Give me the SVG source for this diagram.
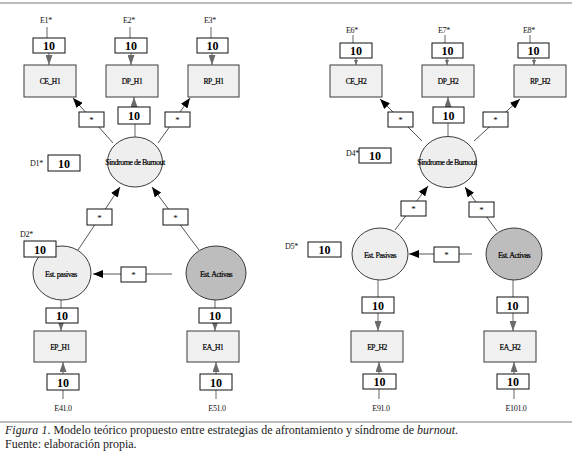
<svg xmlns="http://www.w3.org/2000/svg" width="580" height="456" viewBox="0 0 580 456">
<style>
.bg{fill:#fff}
.obs{fill:#f0f0f0;stroke:#3a3a3a;stroke-width:1}
.lat{fill:#eeeeee;stroke:#3a3a3a;stroke-width:1}
.latd{fill:#bdbdbd;stroke:#3a3a3a;stroke-width:1}
.par{fill:#fff;stroke:#111;stroke-width:1}
.ln{fill:none;stroke:#666;stroke-width:1}
.pth{fill:none;stroke:#555;stroke-width:1}
.rule{stroke:#7a7a7a;stroke-width:1.2}
.t{font-family:"Liberation Serif","DejaVu Serif",serif;font-size:7.5px;fill:#000;text-anchor:middle;letter-spacing:-0.4px;stroke:#000;stroke-width:0.2px}
.tl{font-family:"Liberation Serif","DejaVu Serif",serif;font-size:8px;fill:#000;text-anchor:middle;letter-spacing:-0.5px;stroke:#000;stroke-width:0.2px}
.lab{font-family:"Liberation Serif","DejaVu Serif",serif;font-size:8px;fill:#111;letter-spacing:-0.3px}
.num{font-family:"Liberation Serif","DejaVu Serif",serif;font-size:12px;font-weight:bold;fill:#000;text-anchor:middle}
.st{font-family:"Liberation Serif","DejaVu Serif",serif;font-size:9px;fill:#000;text-anchor:middle}
.cap{font-family:"Liberation Serif","DejaVu Serif",serif;font-size:12px;fill:#222}
</style>
<defs>
<marker id="ab" markerWidth="10" markerHeight="8" refX="10" refY="4" orient="auto" markerUnits="userSpaceOnUse"><path d="M0,0 L10,4 L0,8 z" fill="#000"/></marker>
<marker id="ag" markerWidth="10" markerHeight="7" refX="10" refY="3.5" orient="auto" markerUnits="userSpaceOnUse"><path d="M0,0 L10,3.5 L0,7 z" fill="#6a6a6a"/></marker>
<marker id="as" markerWidth="5" markerHeight="4" refX="5" refY="2" orient="auto" markerUnits="userSpaceOnUse"><path d="M0,0 L5,2 L0,4 z" fill="#6a6a6a"/></marker>
</defs>
<rect class="bg" x="0" y="0" width="580" height="456"/>
<line class="rule" x1="0" y1="3" x2="572" y2="3"/>
<line class="rule" x1="0" y1="422" x2="572" y2="422"/>

<g id="connectors">
  <line class="ln" x1="47" y1="27" x2="47" y2="38"/>
  <line class="ln" x1="130" y1="27" x2="130" y2="38"/>
  <line class="ln" x1="211" y1="27" x2="211" y2="38"/>
  <line class="ln" x1="49" y1="53" x2="49" y2="65" marker-end="url(#ag)"/>
  <line class="ln" x1="131" y1="53" x2="131" y2="65" marker-end="url(#ag)"/>
  <line class="ln" x1="212" y1="53" x2="212" y2="65" marker-end="url(#ag)"/>
  <line class="ln" x1="135" y1="137" x2="135" y2="124"/>
  <line class="ln" x1="134" y1="107" x2="134" y2="97" marker-end="url(#ag)"/>
  <line class="pth" x1="113" y1="143" x2="73" y2="98" marker-end="url(#ab)"/>
  <line class="pth" x1="158" y1="143" x2="190" y2="98" marker-end="url(#ab)"/>
  <line class="pth" x1="78" y1="250" x2="120" y2="187" marker-end="url(#ab)"/>
  <line class="pth" x1="199" y1="250" x2="152" y2="187" marker-end="url(#ab)"/>
  <line class="pth" x1="172" y1="274" x2="93" y2="274" marker-end="url(#ab)"/>
  <line class="ln" x1="61" y1="300" x2="61" y2="308"/>
  <line class="ln" x1="61" y1="323" x2="61" y2="331" marker-end="url(#ag)"/>
  <line class="ln" x1="63" y1="374" x2="63" y2="362" marker-end="url(#ag)"/>
  <line class="ln" x1="63" y1="390" x2="63" y2="399"/>
  <line class="ln" x1="215" y1="300" x2="215" y2="308"/>
  <line class="ln" x1="215" y1="323" x2="215" y2="331" marker-end="url(#ag)"/>
  <line class="ln" x1="216" y1="374" x2="216" y2="362" marker-end="url(#ag)"/>
  <line class="ln" x1="216" y1="390" x2="216" y2="399"/>
  <line class="ln" x1="353" y1="35" x2="353" y2="43"/>
  <line class="ln" x1="445" y1="35" x2="445" y2="43"/>
  <line class="ln" x1="530" y1="35" x2="530" y2="43"/>
  <line class="ln" x1="356" y1="58" x2="356" y2="65" marker-end="url(#as)"/>
  <line class="ln" x1="447" y1="58" x2="447" y2="65" marker-end="url(#as)"/>
  <line class="ln" x1="534" y1="58" x2="534" y2="65" marker-end="url(#as)"/>
  <line class="ln" x1="448" y1="136" x2="448" y2="123"/>
  <line class="ln" x1="448" y1="107" x2="448" y2="97" marker-end="url(#ag)"/>
  <line class="pth" x1="422" y1="141" x2="380" y2="99" marker-end="url(#ab)"/>
  <line class="pth" x1="474" y1="141" x2="520" y2="99" marker-end="url(#ab)"/>
  <line class="pth" x1="395" y1="230" x2="428" y2="186" marker-end="url(#ab)"/>
  <line class="pth" x1="497" y1="231" x2="465" y2="187" marker-end="url(#ab)"/>
  <line class="pth" x1="472" y1="254" x2="409" y2="254" marker-end="url(#ab)"/>
  <line class="ln" x1="378" y1="280" x2="378" y2="297"/>
  <line class="ln" x1="378" y1="313" x2="378" y2="331" marker-end="url(#ag)"/>
  <line class="ln" x1="379" y1="374" x2="379" y2="362" marker-end="url(#ag)"/>
  <line class="ln" x1="379" y1="389" x2="379" y2="399"/>
  <line class="ln" x1="513" y1="280" x2="513" y2="297"/>
  <line class="ln" x1="513" y1="313" x2="513" y2="331" marker-end="url(#ag)"/>
  <line class="ln" x1="514" y1="374" x2="514" y2="362" marker-end="url(#ag)"/>
  <line class="ln" x1="514" y1="389" x2="514" y2="399"/>
  <g id="coef">
    <rect class="par" x="79" y="112" width="25" height="15"/><text class="st" x="91.5" y="123">*</text>
    <rect class="par" x="165" y="112" width="25" height="15"/><text class="st" x="177.5" y="123">*</text>
    <rect class="par" x="87" y="209" width="25" height="16"/><text class="st" x="99.5" y="220.5">*</text>
    <rect class="par" x="163" y="209" width="25" height="16"/><text class="st" x="175.5" y="220.5">*</text>
    <rect class="par" x="121" y="267" width="25" height="15"/><text class="st" x="133.5" y="278">*</text>
    <rect class="par" x="388" y="112" width="25" height="15"/><text class="st" x="400.5" y="123">*</text>
    <rect class="par" x="483" y="112" width="25" height="15"/><text class="st" x="495.5" y="123">*</text>
    <rect class="par" x="401" y="201" width="25" height="15"/><text class="st" x="413.5" y="212">*</text>
    <rect class="par" x="469" y="202" width="25" height="15"/><text class="st" x="481.5" y="213">*</text>
    <rect class="par" x="434" y="247" width="25" height="15"/><text class="st" x="446.5" y="258">*</text>
  </g>
</g>

<g id="E1"><text class="lab" x="40" y="23">E1*</text><rect class="par" x="33" y="38" width="32" height="15"/><text class="num" x="49" y="50">10</text></g>
<g id="E2"><text class="lab" x="123" y="23">E2*</text><rect class="par" x="115" y="38" width="32" height="15"/><text class="num" x="131" y="50">10</text></g>
<g id="E3"><text class="lab" x="204" y="23">E3*</text><rect class="par" x="197" y="38" width="31" height="15"/><text class="num" x="212.5" y="50">10</text></g>
<g id="CE_H1"><rect class="obs" x="24" y="65" width="52" height="32"/><text class="t" x="50" y="84">CE_H1</text></g>
<g id="DP_H1"><rect class="obs" x="106" y="65" width="52" height="32"/><text class="t" x="132" y="84">DP_H1</text></g>
<g id="RP_H1"><rect class="obs" x="188" y="65" width="51" height="32"/><text class="t" x="213.5" y="84">RP_H1</text></g>
<g id="V1"><rect class="par" x="118" y="107" width="32" height="17"/><text class="num" x="134" y="120">10</text></g>
<g id="Burnout1"><ellipse class="lat" cx="135" cy="162" rx="27.5" ry="25"/><text class="tl" x="135" y="165">Sindrome de Burnout</text></g>
<g id="D1"><text class="lab" x="30" y="166">D1*</text><rect class="par" x="48" y="155" width="32" height="16"/><text class="num" x="64" y="167.5">10</text></g>
<g id="EstPasivas1"><ellipse class="lat" cx="62" cy="273" rx="29" ry="27"/><text class="tl" x="61" y="277">Est. pasivas</text></g>
<g id="D2"><text class="lab" x="20" y="237">D2*</text><rect class="par" x="24" y="241" width="32" height="16"/><text class="num" x="40" y="253.5">10</text></g>
<g id="EstActivas1"><ellipse class="latd" cx="216" cy="273" rx="30" ry="27"/><text class="tl" x="216" y="277">Est. Activas</text></g>
<g id="V4"><rect class="par" x="46" y="308" width="32" height="15"/><text class="num" x="62" y="320">10</text></g>
<g id="EP_H1"><rect class="obs" x="34" y="331" width="52" height="31"/><text class="t" x="60" y="349.5">EP_H1</text></g>
<g id="E41"><rect class="par" x="47" y="374" width="32" height="16"/><text class="num" x="63" y="386.5">10</text><text class="lab" x="63" y="411" text-anchor="middle">E41.0</text></g>
<g id="V5"><rect class="par" x="199" y="308" width="32" height="15"/><text class="num" x="215" y="320">10</text></g>
<g id="EA_H1"><rect class="obs" x="187" y="331" width="52" height="31"/><text class="t" x="213" y="349.5">EA_H1</text></g>
<g id="E51"><rect class="par" x="200" y="374" width="32" height="16"/><text class="num" x="216" y="386.5">10</text><text class="lab" x="217" y="411" text-anchor="middle">E51.0</text></g>

<g id="E6"><text class="lab" x="346" y="33">E6*</text><rect class="par" x="340" y="43" width="32" height="15"/><text class="num" x="356" y="55">10</text></g>
<g id="E7"><text class="lab" x="438" y="33">E7*</text><rect class="par" x="432" y="43" width="31" height="15"/><text class="num" x="447.5" y="55">10</text></g>
<g id="E8"><text class="lab" x="523" y="33">E8*</text><rect class="par" x="518" y="43" width="31" height="15"/><text class="num" x="533.5" y="55">10</text></g>
<g id="CE_H2"><rect class="obs" x="330" y="65" width="52" height="32"/><text class="t" x="356" y="84">CE_H2</text></g>
<g id="DP_H2"><rect class="obs" x="422" y="65" width="52" height="32"/><text class="t" x="448" y="84">DP_H2</text></g>
<g id="RP_H2"><rect class="obs" x="514" y="65" width="52" height="32"/><text class="t" x="540" y="84">RP_H2</text></g>
<g id="V2"><rect class="par" x="433" y="107" width="31" height="16"/><text class="num" x="448.5" y="119.5">10</text></g>
<g id="Burnout2"><ellipse class="lat" cx="448" cy="162" rx="28.5" ry="25.5"/><text class="tl" x="447" y="165">Sindrome de Burnout</text></g>
<g id="D4"><text class="lab" x="346" y="156">D4*</text><rect class="par" x="359" y="148" width="32" height="15"/><text class="num" x="375" y="160">10</text></g>
<g id="D5"><text class="lab" x="285" y="249">D5*</text><rect class="par" x="308" y="242" width="33" height="15"/><text class="num" x="324.5" y="254">10</text></g>
<g id="EstPasivas2"><ellipse class="lat" cx="380" cy="254" rx="28" ry="26"/><text class="tl" x="380" y="258">Est. Pasivas</text></g>
<g id="EstActivas2"><ellipse class="latd" cx="514" cy="254" rx="28" ry="26"/><text class="tl" x="514" y="258">Est. Activas</text></g>
<g id="V9"><rect class="par" x="362" y="297" width="32" height="16"/><text class="num" x="378" y="309.5">10</text></g>
<g id="EP_H2"><rect class="obs" x="351" y="331" width="52" height="31"/><text class="t" x="377" y="349.5">EP_H2</text></g>
<g id="E91"><rect class="par" x="363" y="374" width="33" height="15"/><text class="num" x="379.5" y="386">10</text><text class="lab" x="381" y="411" text-anchor="middle">E91.0</text></g>
<g id="V10"><rect class="par" x="497" y="297" width="31" height="16"/><text class="num" x="512.5" y="309.5">10</text></g>
<g id="EA_H2"><rect class="obs" x="484" y="331" width="52" height="31"/><text class="t" x="510" y="349.5">EA_H2</text></g>
<g id="E101"><rect class="par" x="497" y="374" width="32" height="15"/><text class="num" x="513" y="386">10</text><text class="lab" x="516" y="411" text-anchor="middle">E101.0</text></g>

<g id="caption">
<text class="cap" x="5" y="434" textLength="453" lengthAdjust="spacing"><tspan font-style="italic">Figura 1</tspan>. Modelo teórico propuesto entre estrategias de afrontamiento y síndrome de <tspan font-style="italic">burnout</tspan>.</text>
<text class="cap" x="5" y="448">Fuente: elaboración propia.</text>
</g>
</svg>
